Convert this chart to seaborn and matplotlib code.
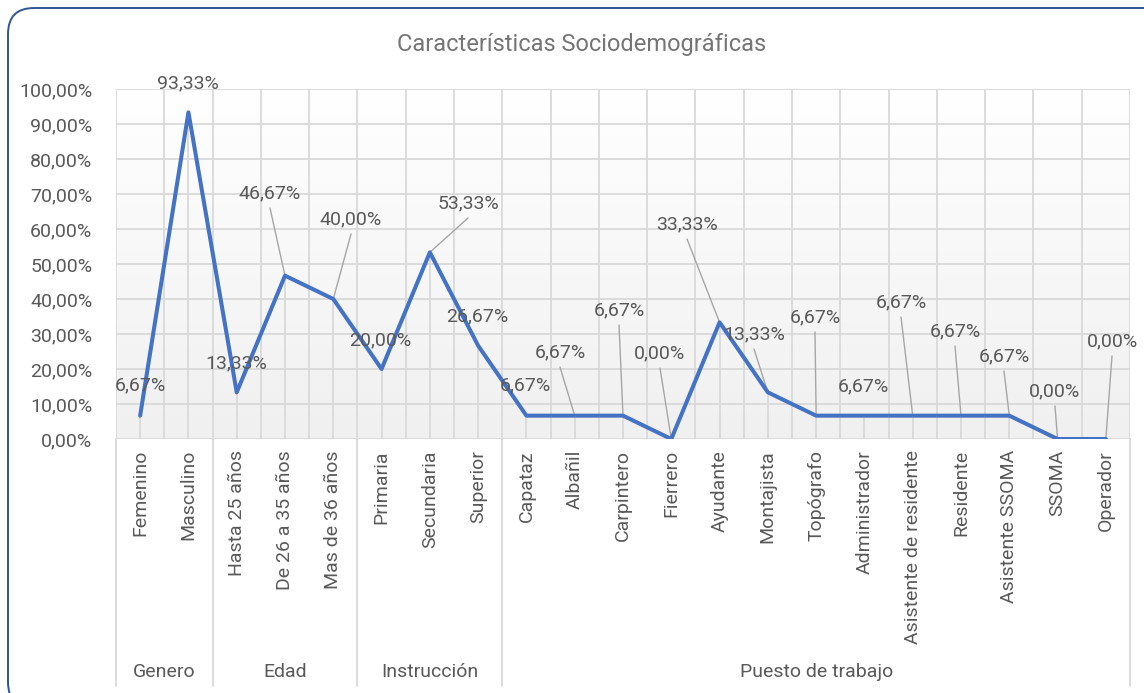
import numpy as np
import pandas as pd
import matplotlib
matplotlib.use("Agg")
import matplotlib.pyplot as plt
import matplotlib.transforms as mtransforms
from matplotlib.patches import FancyBboxPatch
from matplotlib.colors import LinearSegmentedColormap
import seaborn as sns

# ---- data ----
categories = ["Femenino", "Masculino",
              "Hasta 25 años", "De 26 a 35 años", "Mas de 36 años",
              "Primaria", "Secundaria", "Superior",
              "Capataz", "Albañil", "Carpintero", "Fierrero", "Ayudante",
              "Montajista", "Topógrafo", "Administrador",
              "Asistente de residente", "Residente", "Asistente SSOMA",
              "SSOMA", "Operador"]
values = [6.67, 93.33,
          13.33, 46.67, 40.00,
          20.00, 53.33, 26.67,
          6.67, 6.67, 6.67, 0.00, 33.33,
          13.33, 6.67, 6.67,
          6.67, 6.67, 6.67,
          0.00, 0.00]
groups = ["Genero", "Edad", "Instrucción", "Puesto de trabajo"]
group_sizes = [2, 3, 3, 13]
y_ticks = [0, 10, 20, 30, 40, 50, 60, 70, 80, 90, 100]
title = "Características Sociodemográficas"

sns.set_theme(style="white")
plt.rcParams['font.family'] = ['Roboto', 'DejaVu Sans']

W, H = 1144, 693
fig = plt.figure(figsize=(W / 100, H / 100), dpi=100)
fig.patch.set_facecolor("white")

def px(x0, y0, x1, y1):
    return [x0 / W, 1 - y1 / H, (x1 - x0) / W, (y1 - y0) / H]

ax = fig.add_axes(px(116, 89, 1130, 439))
ax.set_facecolor("none")

n = len(categories)
xs = np.arange(n)
ax.set_xlim(-0.5, n - 0.5)
ax.set_ylim(0, 100)

# gradient background
grad = np.linspace(0, 1, 256).reshape(-1, 1)
cmap = LinearSegmentedColormap.from_list("g", ["#f0f0f0", "#ffffff"])
ax.imshow(grad, extent=[-0.5, n - 0.5, 0, 100], origin="lower", aspect="auto",
          cmap=cmap, zorder=0)

grid_c = "#d9d9d9"
for yv in y_ticks:
    ax.axhline(yv, color=grid_c, lw=1.3, zorder=1)
for b in np.arange(-0.5, n, 1):
    ax.axvline(b, color=grid_c, lw=1.3, zorder=1)

# drop lines
ax.vlines(xs, 0, values, color=grid_c, lw=1.3, zorder=1.5)

df = pd.DataFrame({"x": xs, "y": values})
sns.lineplot(data=df, x="x", y="y", ax=ax, color="#4472c4", lw=2.9, zorder=3)

for s in ax.spines.values():
    s.set_visible(False)

txt_c = "#595959"
fs = 14
ax.set_yticks(y_ticks)
ax.set_yticklabels([f"{v:.2f}%".replace(".", ",") for v in y_ticks],
                   color=txt_c, fontsize=fs)
ax.tick_params(axis="y", length=0, pad=17)

ax.set_xticks(xs)
ax.set_xticklabels(categories, rotation=90, color=txt_c, fontsize=fs,
                   va="top", ha="center")
ax.tick_params(axis="x", length=0, pad=8)
ax.set_xlabel("")
ax.set_ylabel("")

# group separators and labels
trans = mtransforms.blended_transform_factory(ax.transData, ax.transAxes)
y_bot = (439 - 686) / 350
bounds = np.concatenate([[0], np.cumsum(group_sizes)]) - 0.5
for b in bounds:
    ax.plot([b, b], [0, y_bot], transform=trans, color=grid_c, lw=1.3,
            clip_on=False, zorder=1)
for g, a, b in zip(groups, bounds[:-1], bounds[1:]):
    ax.text((a + b) / 2, (439 - 672) / 350, g, transform=trans, ha="center",
            va="center", color=txt_c, fontsize=fs)

# data labels: (label center x in px, label center y in px, leader?)
label_pos = [(140, 385, False), (188, 83, False),
             (236, 363, False), (270, 193, True), (351, 219, True),
             (380, 340, False), (468, 203, True), (477, 316, False),
             (525, 385, False), (560, 352, True), (619, 310, True),
             (660, 353, True), (687, 224, True),
             (754, 334, True), (815, 317, True), (863, 386, False),
             (901, 302, True), (955, 331, True), (1004, 356, True),
             (1055, 391, True), (1112, 341, True)]

def px_to_data(xp, yp):
    xd = -0.5 + (xp - 116) / (1130 - 116) * n
    yd = (439 - yp) / 350 * 100
    return xd, yd

for i, (v, (lx, ly, lead)) in enumerate(zip(values, label_pos)):
    xd, yd = px_to_data(lx, ly)
    ax.text(xd, yd, f"{v:.2f}%".replace(".", ","), ha="center", va="center",
            color=txt_c, fontsize=fs, zorder=5, clip_on=False)
    if lead:
        sx, sy = px_to_data(lx, ly + 15)
        ax.plot([sx, xs[i]], [sy, v], color="#a6a6a6", lw=1.0, zorder=2.5)

fig.text(582 / W, 1 - 44 / H, title, ha="center", va="center",
         color="#757575", fontsize=17)

# rounded border (pixel coordinates, origin bottom-left)
border = FancyBboxPatch((8, -15), 1200, H - 8 + 15,
                        boxstyle="round,pad=0,rounding_size=26",
                        transform=mtransforms.IdentityTransform(), fill=False,
                        edgecolor="#2f5597", lw=1.4, clip_on=False)
fig.patches.append(border)

fig.savefig("out.png", dpi=100, facecolor="white")
